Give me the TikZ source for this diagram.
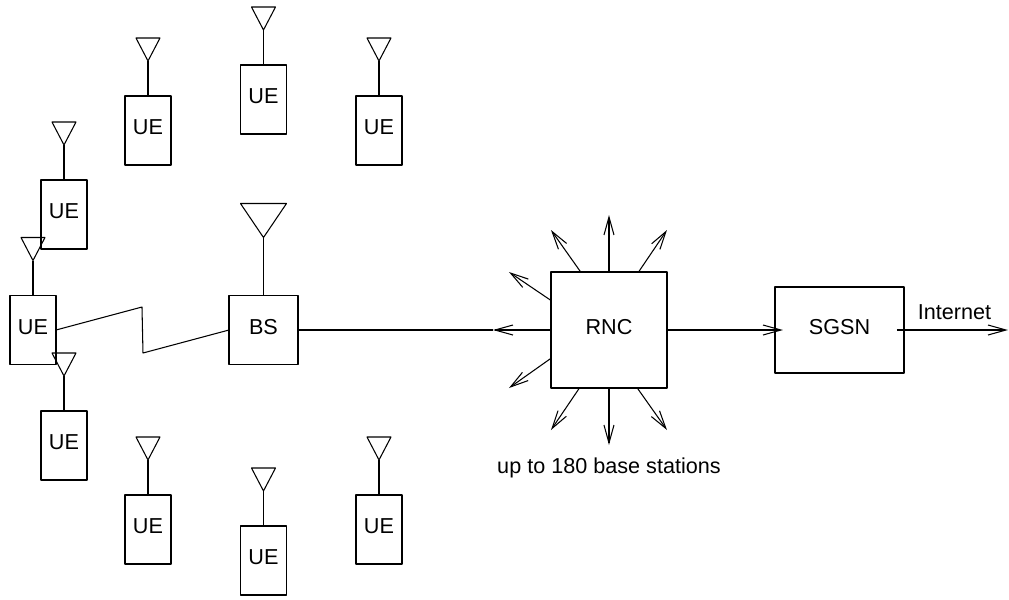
\documentclass[tikz,border=0pt]{standalone}
\usepackage{fontspec}
\setmainfont{Liberation Sans}
\usepackage {tikz}
\usetikzlibrary {positioning}
\usetikzlibrary{shapes.geometric}
\usetikzlibrary{arrows.meta}
\tikzset{
	box/.style = {rectangle,draw,inner sep=0pt,outer sep=0pt,text depth=0.06cm},
	ue/.style = {box,minimum width=0.46cm,minimum height=0.69cm},
	antenna/.style = {isosceles triangle,isosceles triangle stretches,draw,inner sep=0pt,outer sep=0pt,
		shape border rotate=270,minimum width=0.24cm,minimum height=0.23cm},
	big antenna/.style = {antenna,minimum width=0.46cm,minimum height=0.34cm},
	link/.style = {-{Straight Barb[length=1.8mm,width=1mm]}}}
\begin{document}
\begin{tikzpicture}[node distance =1 cm and 2cm ,on grid ,
	line width=0.3pt, line join=round,
	font=\fontsize{6.15}{7.4}\selectfont
	]
	\useasboundingbox (-6.09,3.30) rectangle (4.00,-2.69);
	\node (RNC) [box,minimum width=1.16cm,minimum height=1.16cm] at (0,0) {RNC};
	\node (BS) [box,left = 3.455cm of RNC,minimum width=0.69cm,minimum height=0.69cm] {BS};
	\node (SGSN) [box,right = 2.305cm of RNC,minimum width=1.29cm,minimum height=0.86cm] {SGSN};
	% mobiles round the base station
	\node (ueA) [ue,above left = 1.995cm and 1.155cm of BS] {UE};
	\node (ueB) [ue,above = 2.305cm of BS] {UE};
	\node (ueC) [ue,above right = 1.995cm and 1.155cm of BS] {UE};
	\node (ueD) [ue,above left = 1.155cm and 1.995cm of BS] {UE};
	\node (ueE) [ue,left = 2.305cm of BS] {UE};
	\node (ueF) [ue,below left = 1.155cm and 1.995cm of BS] {UE};
	\node (ueG) [ue,below left = 1.995cm and 1.155cm of BS] {UE};
	\node (ueH) [ue,below = 2.305cm of BS] {UE};
	\node (ueI) [ue,below right = 1.995cm and 1.155cm of BS] {UE};
	\node (antA) [antenna,above = 0.35cm of ueA.north] {};
	\node (antB) [antenna,above = 0.35cm of ueB.north] {};
	\node (antC) [antenna,above = 0.35cm of ueC.north] {};
	\node (antD) [antenna,above = 0.35cm of ueD.north] {};
	\node (antE) [antenna,above = 0.35cm of ueE.north] {};
	\node (antF) [antenna,above = 0.35cm of ueF.north] {};
	\node (antG) [antenna,above = 0.35cm of ueG.north] {};
	\node (antH) [antenna,above = 0.35cm of ueH.north] {};
	\node (antI) [antenna,above = 0.35cm of ueI.north] {};
	\node (antBS) [big antenna,above = 0.58cm of BS.north] {};
	\draw (ueA.north) -- (antA.apex);
	\draw (ueB.north) -- (antB.apex);
	\draw (ueC.north) -- (antC.apex);
	\draw (ueD.north) -- (antD.apex);
	\draw (ueE.north) -- (antE.apex);
	\draw (ueF.north) -- (antF.apex);
	\draw (ueG.north) -- (antG.apex);
	\draw (ueH.north) -- (antH.apex);
	\draw (ueI.north) -- (antI.apex);
	\draw (BS.north) -- (antBS.apex);
	% radio link
	\coordinate [above left = 0.23cm and 1.215cm of BS] (bendA);
	\coordinate [below left = 0.23cm and 1.205cm of BS] (bendB);
	\draw (ueE.east) -- (bendA) -- (bendB) -- (BS.west);
	% arrows out of the RNC
	\coordinate [above = 1.15cm of RNC] (tipN);
	\coordinate [above left = 1cm and 0.58cm of RNC] (tipNW);
	\coordinate [above right = 1cm and 0.58cm of RNC] (tipNE);
	\coordinate [above left = 0.58cm and 1cm of RNC] (tipWN);
	\coordinate [left = 1.16cm of RNC] (tipW);
	\coordinate [below left = 0.58cm and 1cm of RNC] (tipWS);
	\coordinate [below left = 1cm and 0.58cm of RNC] (tipSW);
	\coordinate [below = 1.15cm of RNC] (tipS);
	\coordinate [below right = 1cm and 0.58cm of RNC] (tipSE);
	\draw [link] (RNC.north) -- (tipN);
	\draw [link] (RNC.116.57) -- (tipNW);
	\draw [link] (RNC.63.43) -- (tipNE);
	\draw [link] (RNC.153.43) -- (tipWN);
	\draw [link] (RNC.west) -- (tipW);
	\draw [link] (RNC.206.57) -- (tipWS);
	\draw [link] (RNC.243.43) -- (tipSW);
	\draw [link] (RNC.south) -- (tipS);
	\draw [link] (RNC.296.57) -- (tipSE);
	\draw (BS.east) -- (tipW);
	\node (count) [below = 1.38cm of RNC] {up to 180 base stations};
	% towards the core
	\coordinate [left = 0.565cm of SGSN] (sgsnIn);
	\coordinate [right = 0.575cm of SGSN] (netOut);
	\coordinate [right = 1.685cm of SGSN] (netTip);
	\draw [link] (RNC.east) -- (sgsnIn);
	\draw [link] (netOut) -- (netTip);
	\node (net) [above right = 0.18cm and 1.15cm of SGSN] {Internet};
\end{tikzpicture}
\end{document}
